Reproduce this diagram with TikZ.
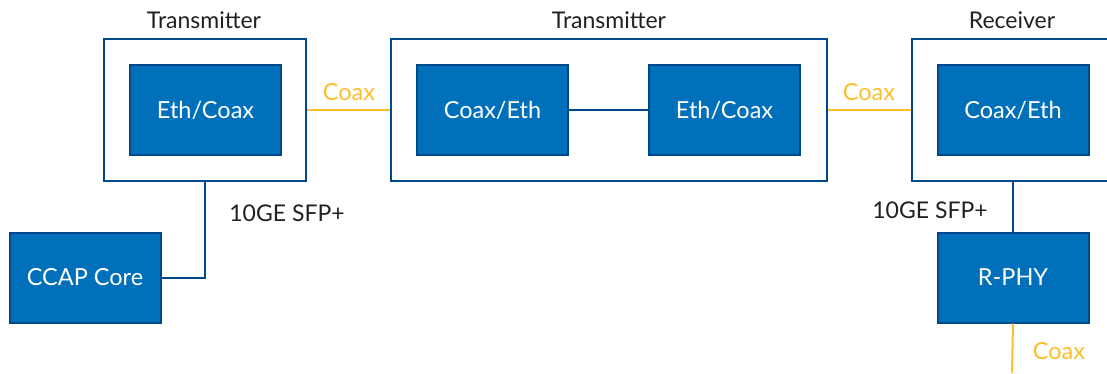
\documentclass[tikz,border=0pt]{standalone}
\usepackage{fontspec}
\setmainfont{Lato}
\usepackage{tikz}
\usetikzlibrary{positioning}
\definecolor{unitblue}{RGB}{0,112,186}
\definecolor{edgeblue}{RGB}{0,72,140}
\definecolor{coaxgold}{RGB}{253,190,45}
\definecolor{labelgray}{RGB}{35,31,32}

\begin{document}
\begin{tikzpicture}[x=1pt,y=-1pt,
    outerbox/.style={draw=edgeblue,line width=2pt,fill=white,inner sep=0pt},
    unitbox/.style={draw=edgeblue,line width=2pt,fill=unitblue,text=white,
      minimum width=151pt,minimum height=90pt,inner sep=0pt,font=\fontsize{23.5}{26}\selectfont},
    caption/.style={text=labelgray,font=\fontsize{23}{26}\selectfont},
    coaxlabel/.style={text=coaxgold,font=\fontsize{23.5}{26}\selectfont},
    wire/.style={draw=edgeblue,line width=2pt},
    coax/.style={draw=coaxgold,line width=2pt}]
  \useasboundingbox (0,0) rectangle (1107,373);

  % enclosures
  \node[outerbox,minimum width=202pt,minimum height=142pt] (tx1) at (205,110) {};
  \node[outerbox,minimum width=436pt,minimum height=142pt] (tx2) at (609,110) {};
  \node[outerbox,minimum width=202pt,minimum height=142pt] (rx)  at (1013,110) {};
  \node[caption] (tx1cap) at (204,20) {Transmitter};
  \node[caption] (tx2cap) at (609,20) {Transmitter};
  \node[caption] (rxcap) at (1012,20) {Receiver};

  % converters
  \node[unitbox] (ec1) at (205.5,110) {Eth/Coax};
  \node[unitbox] (ce1) at (492.5,110) {Coax/Eth};
  \node[unitbox] (ec2) at (724.5,110) {Eth/Coax};
  \node[unitbox] (ce2) at (1013,110) {Coax/Eth};
  \node[unitbox] (ccap) at (85,277.5) {CCAP Core};
  \node[unitbox] (rphy) at (1013,277.5) {R-PHY};
  \coordinate (tail) at (1012,373);

  % links
  \path[wire] (ce1) -- (ec2);
  \path[wire] (tx1.south) |- (ccap.east);
  \path[wire] (rx.south -| rphy.north) -- (rphy.north);
  \path[coax] (tx1) -- (tx2);
  \path[coax] (tx2.east) -- (rx.west);
  \path[coax] (rphy.south) -- (tail);

  \node[coaxlabel] (c1) at (349,92) {Coax};
  \node[coaxlabel] (c2) at (869,92) {Coax};
  \node[coaxlabel] (c3) at (1059,351) {Coax};
  \node[caption] (sfp1) at (287,213) {10GE SFP+};
  \node[caption] (sfp2) at (930,210) {10GE SFP+};
\end{tikzpicture}
\end{document}
